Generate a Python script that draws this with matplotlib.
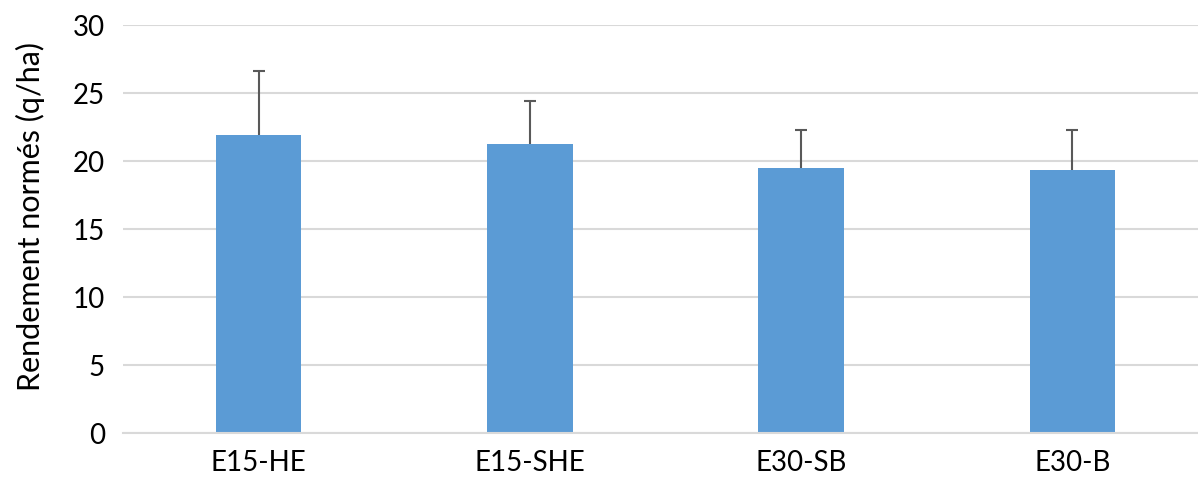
import matplotlib.pyplot as plt
import numpy as np

categories = ['E15-HE', 'E15-SHE', 'E30-SB', 'E30-B']
values = [21.9, 21.25, 19.46, 19.36]
err_up = [4.7, 3.15, 2.8, 2.94]

plt.rcParams['font.family'] = ['Lato', 'DejaVu Sans']

fig = plt.figure(figsize=(11.98, 4.84), dpi=100)
ax = fig.add_axes([123 / 1198, 51 / 484, 1085 / 1198, 408 / 484])

x = np.arange(len(categories))
ax.bar(x, values, width=0.315, color='#5B9BD5', zorder=2)
line, caps, bars = ax.errorbar(x, values, yerr=[np.zeros(len(values)), err_up],
                               fmt='none', ecolor='#595959', elinewidth=1.5,
                               capsize=4.5, capthick=1.5, zorder=3)
caps[0].set_visible(False)

ax.set_xlim(-0.5, len(categories) - 0.5)
ax.set_ylim(0, 30)
ax.set_yticks(range(0, 31, 5))
ax.set_xticks(x)
ax.set_xticklabels(categories)
ax.yaxis.grid(True, color='#D9D9D9', linewidth=1.5, zorder=0)
ax.set_axisbelow(True)
for s in ['top', 'right', 'left']:
    ax.spines[s].set_visible(False)
ax.spines['bottom'].set_color('#D9D9D9')
ax.spines['bottom'].set_linewidth(1.5)
ax.tick_params(axis='both', length=0, labelsize=20, colors='#000000')
ax.tick_params(axis='y', pad=13)
ax.tick_params(axis='x', pad=12)
ax.set_ylabel('Rendement normés (q/ha)', fontsize=22, va='center')
ax.yaxis.set_label_coords(-0.0857, 0.53)

fig.savefig('out.png', dpi=100)
